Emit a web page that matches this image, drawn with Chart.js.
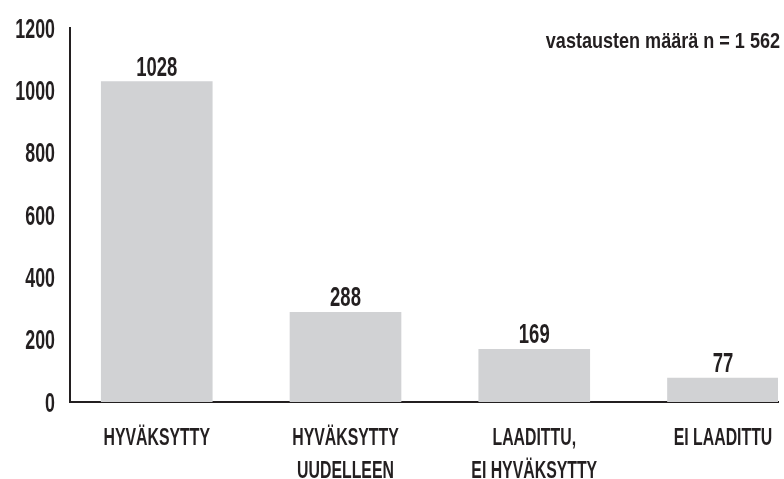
<!DOCTYPE html>
<html>
<head>
<meta charset="utf-8">
<script src="https://cdn.jsdelivr.net/npm/chart.js@4/dist/chart.umd.min.js"></script>
<style>
  html, body { margin: 0; padding: 0; background: #ffffff; }
  #wrap { position: relative; width: 784px; height: 479px; }
</style>
</head>
<body>
<div id="wrap"><canvas id="c" width="784" height="479"></canvas></div>
<script>
const categories = [
  ["HYVÄKSYTTY"],
  ["HYVÄKSYTTY", "UUDELLEEN"],
  ["LAADITTU,", "EI HYVÄKSYTTY"],
  ["EI LAADITTU"]
];
const values = [1028, 288, 169, 77];
const yTicks = [0, 200, 400, 600, 800, 1000, 1200];
const noteText = "vastausten määrä n = 1 562";

const FONT = "'Liberation Sans', Arial, sans-serif";
const INK = "#231f20";

// draw condensed text: horizontally squeezed around the anchor point
function drawText(ctx, text, x, y, align, size, squeeze) {
  ctx.save();
  ctx.font = 'bold ' + size + 'px ' + FONT;
  ctx.textAlign = align;
  ctx.textBaseline = 'alphabetic';
  ctx.translate(x, y);
  ctx.scale(squeeze || 0.66, 1);
  ctx.fillText(text, 0, 0);
  ctx.restore();
}

const textLayer = {
  id: 'textLayer',
  afterDraw(chart) {
    const ctx = chart.ctx;
    const xs = chart.scales.x, ys = chart.scales.y;
    const area = chart.chartArea;
    ctx.save();
    ctx.fillStyle = INK;
    // y tick labels
    yTicks.forEach(v => {
      const py = ys.getPixelForValue(v);
      drawText(ctx, String(v), area.left - 15, py + 0.358 * 27, 'right', 27);
    });
    // x category labels
    categories.forEach((lines, i) => {
      const px = xs.getPixelForValue(i);
      lines.forEach((ln, j) => {
        drawText(ctx, ln, px, area.bottom + 43 + j * 33, 'center', 24);
      });
    });
    // value labels
    const meta = chart.getDatasetMeta(0);
    meta.data.forEach((bar, i) => {
      drawText(ctx, String(values[i]), bar.x, bar.y - 6, 'center', 28);
    });
    // annotation
    drawText(ctx, noteText, area.right + 2, 48, 'right', 22, 0.82);
    ctx.restore();
  }
};

new Chart(document.getElementById('c'), {
  type: 'bar',
  data: {
    datasets: [{
      data: values.map((v, i) => ({ x: i, y: v })),
      backgroundColor: '#d1d2d4',
      borderWidth: 0,
      barThickness: 111
    }]
  },
  options: {
    responsive: false,
    animation: false,
    layout: { padding: { top: 28, right: 6, left: 0, bottom: 0 } },
    plugins: { legend: { display: false }, tooltip: { enabled: false } },
    scales: {
      x: {
        type: 'linear',
        min: -0.4596,
        max: 3.2914,
        offset: false,
        grid: { display: false, drawTicks: false },
        border: { display: true, color: INK, width: 2 },
        afterBuildTicks: s => { s.ticks = categories.map((_, i) => ({ value: i })); },
        afterFit: s => { s.height = 77; s.paddingLeft = 0; s.paddingRight = 0; },
        ticks: { display: false }
      },
      y: {
        min: 0,
        max: 1200,
        grid: { display: false, drawTicks: false },
        border: { display: true, color: INK, width: 2 },
        afterBuildTicks: s => { s.ticks = yTicks.map(v => ({ value: v })); },
        afterFit: s => { s.width = 70; s.paddingTop = 0; s.paddingBottom = 0; },
        ticks: { display: false }
      }
    }
  },
  plugins: [textLayer]
});
</script>
</body>
</html>
